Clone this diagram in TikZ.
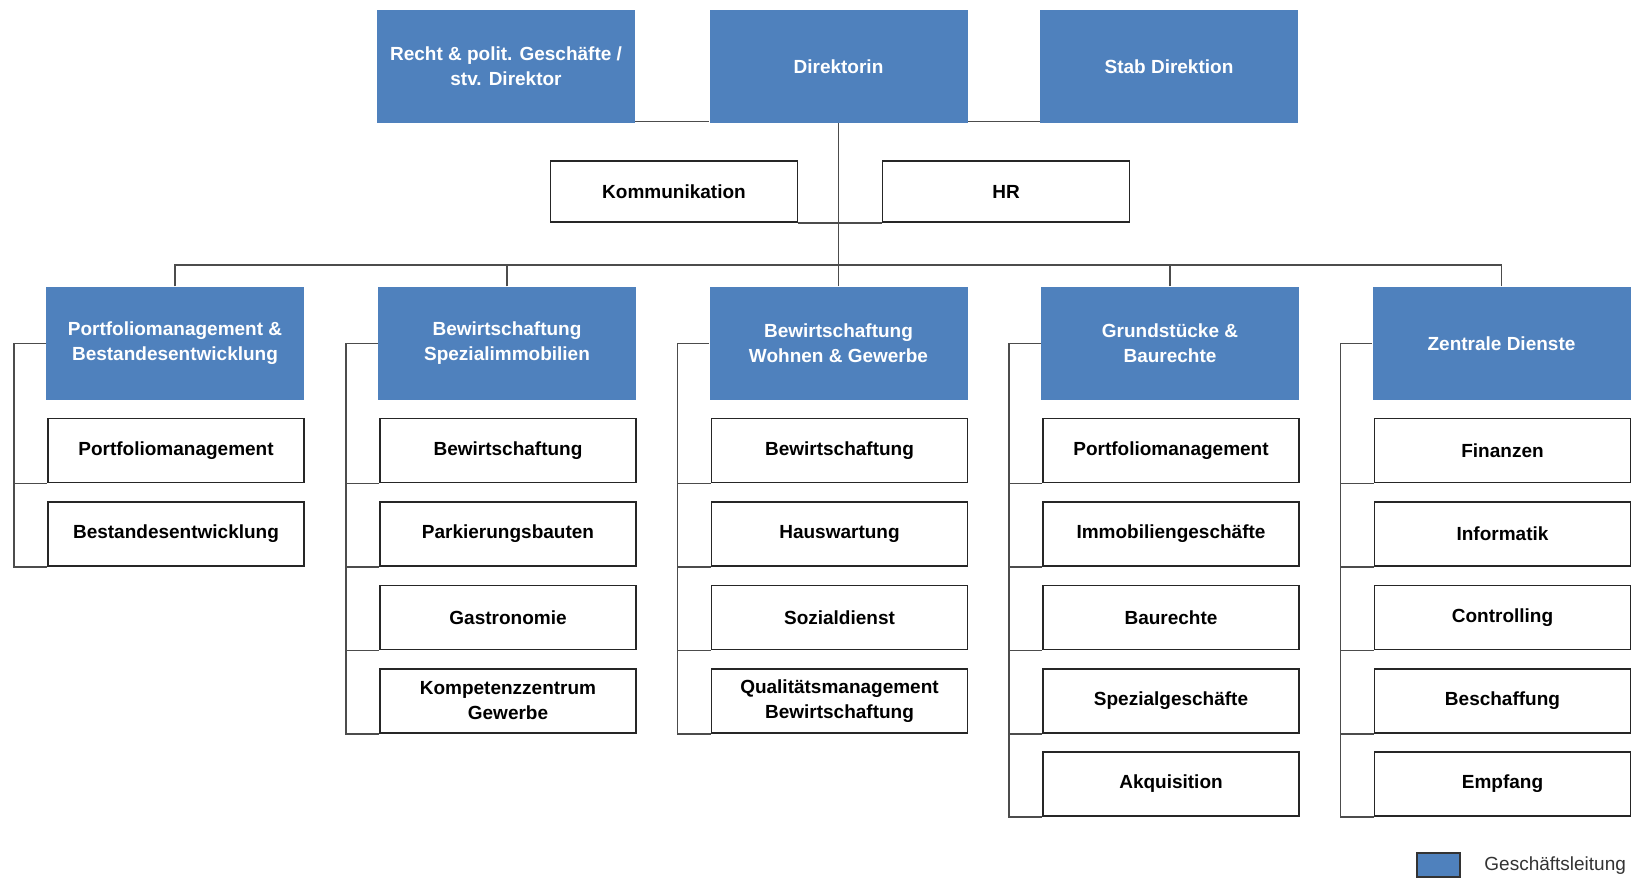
\documentclass[tikz,border=0pt]{standalone}
\usepackage{fontspec}
\setmainfont{Liberation Sans}
\usepackage{tikz}

\definecolor{glblue}{HTML}{4F81BD}
\tikzset{
  leadbox/.style={fill=glblue, text=white, font=\bfseries\fontsize{9.5}{12.5}\selectfont,
    minimum width=129pt, minimum height=56.5pt, inner sep=0pt, align=center},
  subbox/.style={draw=black!85, line width=0.9pt, fill=white, font=\bfseries\fontsize{9.5}{12.5}\selectfont,
    minimum width=128pt, minimum height=32pt, inner sep=0pt, align=center},
  staffbox/.style={subbox, minimum width=123.5pt, minimum height=30.5pt},
  conn/.style={draw=black!70, line width=0.7pt}
}

\begin{document}
\begin{tikzpicture}[x=0.5pt,y=-0.5pt]
\useasboundingbox (0,0) rectangle (1635,878);
% top row
\node[leadbox] (recht) at (506,66.5) {Recht \& polit. Geschäfte /\\stv. Direktor};
\node[leadbox] (dir) at (838.5,66.5) {Direktorin};
\node[leadbox] (stab) at (1169,66.5) {Stab Direktion};
\node[staffbox] (komm) at (674,191.5) {Kommunikation};
\node[staffbox] (hr) at (1006,191.5) {HR};
\coordinate (bus) at (838.5,265);
\draw[conn] ([yshift=1pt]recht.south east) -- ([yshift=1pt]dir.south west);
\draw[conn] ([yshift=1pt]dir.south east) -- ([yshift=1pt]stab.south west);
\draw[conn] (komm.south east) -- (hr.south west);
\draw[conn] (dir.south) -- (bus);
% departments
\node[leadbox] (pb) at (175,343.3) {Portfoliomanagement \&\\Bestandesentwicklung};
\node[leadbox] (bs) at (507,343.3) {Bewirtschaftung\\Spezialimmobilien};
\node[leadbox] (bw) at (838.5,343.3) {Bewirtschaftung\\Wohnen \& Gewerbe};
\node[leadbox] (gb) at (1170,343.3) {Grundstücke \&\\Baurechte};
\node[leadbox] (zd) at (1501.5,343.3) {Zentrale Dienste};
\draw[conn] (pb.north) |- (bus);
\draw[conn] (bs.north) |- (bus);
\draw[conn] (bw.north) -- (bus);
\draw[conn] (gb.north) |- (bus);
\draw[conn] (zd.north) |- (bus);
% Portfoliomanagement & Bestandesentwicklung
\node[subbox] (pb1) at (176,450.5) {Portfoliomanagement};
\node[subbox] (pb2) at (176,534) {Bestandesentwicklung};
\draw[conn] (pb.west) -- ++(-31.5,0) |- (pb2.south west);
\draw[conn] (pb1.south west) -- ++(-33,0);
% Bewirtschaftung Spezialimmobilien
\node[subbox] (bs1) at (508,450.5) {Bewirtschaftung};
\node[subbox] (bs2) at (508,534) {Parkierungsbauten};
\node[subbox] (bs3) at (508,617.5) {Gastronomie};
\node[subbox] (bs4) at (508,701) {Kompetenzzentrum\\Gewerbe};
\draw[conn] (bs.west) -- ++(-31.5,0) |- (bs4.south west);
\draw[conn] (bs1.south west) -- ++(-33,0);
\draw[conn] (bs2.south west) -- ++(-33,0);
\draw[conn] (bs3.south west) -- ++(-33,0);
% Bewirtschaftung Wohnen & Gewerbe
\node[subbox] (bw1) at (839.5,450.5) {Bewirtschaftung};
\node[subbox] (bw2) at (839.5,534) {Hauswartung};
\node[subbox] (bw3) at (839.5,617.5) {Sozialdienst};
\node[subbox] (bw4) at (839.5,701) {Qualitätsmanagement\\Bewirtschaftung};
\draw[conn] (bw.west) -- ++(-31.5,0) |- (bw4.south west);
\draw[conn] (bw1.south west) -- ++(-33,0);
\draw[conn] (bw2.south west) -- ++(-33,0);
\draw[conn] (bw3.south west) -- ++(-33,0);
% Grundstuecke & Baurechte
\node[subbox] (gb1) at (1171,450.5) {Portfoliomanagement};
\node[subbox] (gb2) at (1171,534) {Immobiliengeschäfte};
\node[subbox] (gb3) at (1171,617.5) {Baurechte};
\node[subbox] (gb4) at (1171,701) {Spezialgeschäfte};
\node[subbox] (gb5) at (1171,784) {Akquisition};
\draw[conn] (gb.west) -- ++(-31.5,0) |- (gb5.south west);
\draw[conn] (gb1.south west) -- ++(-33,0);
\draw[conn] (gb2.south west) -- ++(-33,0);
\draw[conn] (gb3.south west) -- ++(-33,0);
\draw[conn] (gb4.south west) -- ++(-33,0);
% Zentrale Dienste
\node[subbox] (zd1) at (1502.5,450.5) {Finanzen};
\node[subbox] (zd2) at (1502.5,534) {Informatik};
\node[subbox] (zd3) at (1502.5,617.5) {Controlling};
\node[subbox] (zd4) at (1502.5,701) {Beschaffung};
\node[subbox] (zd5) at (1502.5,784) {Empfang};
\draw[conn] (zd.west) -- ++(-31.5,0) |- (zd5.south west);
\draw[conn] (zd1.south west) -- ++(-33,0);
\draw[conn] (zd2.south west) -- ++(-33,0);
\draw[conn] (zd3.south west) -- ++(-33,0);
\draw[conn] (zd4.south west) -- ++(-33,0);
% legend
\node[fill=glblue, draw=black!80, line width=0.8pt, minimum width=21.5pt, minimum height=12pt, inner sep=0pt] (legbox) at (1438.5,865) {};
\node[anchor=west, inner sep=0pt, text=black!80, font=\fontsize{9.5}{11}\selectfont] (legtext) at (1484,866) {Geschäftsleitung};
\end{tikzpicture}
\end{document}
